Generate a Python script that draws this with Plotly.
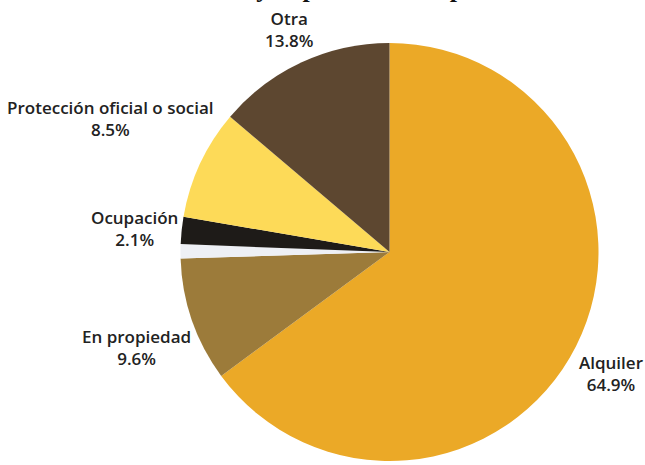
import plotly.graph_objects as go

# Tenure categories, clockwise from 12 o'clock
labels = ["Alquiler", "En propiedad", "No consta", "Ocupación",
          "Protección oficial o social", "Otra"]
values = [64.9, 9.6, 1.1, 2.1, 8.5, 13.8]
colors = ["#EBA927", "#9C7B3A", "#EEF0F5", "#1E1B18", "#FDDA58", "#5D4730"]
show_text = [True, True, False, True, True, True]

# Label anchor points (pixels from top-left) for the outside labels
label_pos = {
    "Alquiler": (611, 373),
    "En propiedad": (136, 347),
    "Ocupación": (134, 229),
    "Protección oficial o social": (110, 118),
    "Otra": (289, 29),
}

title_text = "La vivienda y la población en paro"

W, H = 645, 465
cx, cy, r = 389.5, 252, 209  # pie centre and radius in pixels

fig = go.Figure(go.Pie(
    labels=labels,
    values=values,
    sort=False,
    direction="clockwise",
    rotation=0,
    marker=dict(colors=colors, line=dict(width=0)),
    textinfo="none",
    showlegend=False,
    hoverinfo="label+percent",
    domain=dict(
        x=[(cx - r) / W, (cx + r) / W],
        y=[(H - cy - r) / H, (H - cy + r) / H],
    ),
))

total = sum(values)
for lab, val, show in zip(labels, values, show_text):
    if not show:
        continue
    px, py = label_pos[lab]
    pct = f"{100 * val / total:.1f}%"
    fig.add_annotation(
        text=f"{lab}<br>{pct}",
        xref="paper", yref="paper",
        x=px / W, y=1 - py / H,
        xanchor="center", yanchor="middle",
        showarrow=False,
        font=dict(family="Open Sans", size=17, color="#222222", weight=600),
    )

fig.add_annotation(
    text=title_text,
    xref="paper", yref="paper",
    x=310 / W, y=1 - 5 / H,
    xanchor="center", yanchor="bottom",
    showarrow=False,
    font=dict(family="Liberation Serif", size=26, color="#111111",
              weight="bold"),
)

fig.update_layout(
    width=W, height=H,
    margin=dict(l=0, r=0, t=0, b=0),
    paper_bgcolor="white",
    plot_bgcolor="white",
)

fig.write_html("out.html")
